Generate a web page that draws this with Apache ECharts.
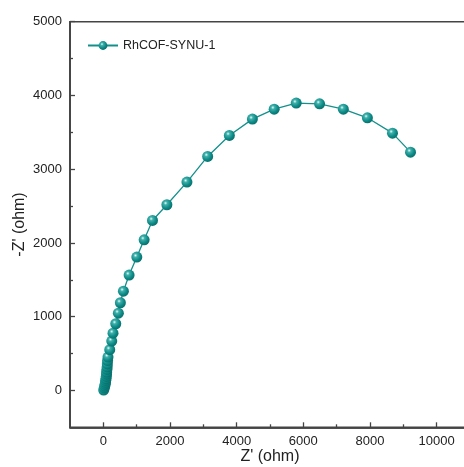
<!DOCTYPE html>
<html><head><meta charset="utf-8">
<script src="https://cdn.jsdelivr.net/npm/echarts@6/dist/echarts.min.js"></script>
<style>html,body{margin:0;padding:0;background:#fff}#c{width:464px;height:467px}</style>
</head><body><div id="c"></div>
<script>
const seriesName = 'RhCOF-SYNU-1';
const zReal = [10, 30, 45, 55, 65, 72, 80, 88, 95, 100, 108, 115, 120, 128, 140, 192, 252, 290, 373, 451, 511, 602, 773, 1004, 1224, 1475, 1906, 2508, 3129, 3781, 4472, 5125, 5786, 6487, 7200, 7922, 8674, 9215];
const zImag = [5, 35, 60, 85, 110, 135, 160, 190, 220, 250, 285, 320, 360, 405, 452, 552, 669, 777, 904, 1048, 1189, 1346, 1564, 1808, 2043, 2305, 2518, 2825, 3173, 3458, 3679, 3814, 3896, 3887, 3814, 3697, 3489, 3231];
const xMajorTicks = [0, 2000, 4000, 6000, 8000, 10000];
const xMinorTicks = [1000, 3000, 5000, 7000, 9000];
const yMajorTicks = [0, 1000, 2000, 3000, 4000, 5000];
const yMinorTicks = [500, 1500, 2500, 3500, 4500];

const teal = '#14908c';
const sphere = {type:'radial', x:0.38, y:0.35, r:0.75, colorStops:[
  {offset:0, color:'#e6fbfa'}, {offset:0.22, color:'#3fb0ab'}, {offset:0.6, color:'#0d8a86'}, {offset:1, color:'#056663'}]};
const axisCol = '#444';
const font = 'Liberation Sans, Arial, sans-serif';
const data = zReal.map((x,i)=>[x, zImag[i]]);
const plain = v => String(v);

const chart = echarts.init(document.getElementById('c'), null, {renderer:'canvas'});
const lineSt = {show:true, onZero:false, lineStyle:{color:axisCol, width:1.5}};
const baseX = {min:-1000, max:11000, axisLine:lineSt, splitLine:{show:false}};
const baseY = {min:-500, max:5000, axisLine:lineSt, splitLine:{show:false}};
chart.setOption({
  animation:false,
  grid:{left:70, right:-6, top:21.7, bottom:39.7, containLabel:false, outerBoundsMode:'none',
    show:true, borderColor:axisCol, borderWidth:1.5},
  legend:{data:[seriesName], left:82, top:34, itemWidth:30, itemHeight:11, itemGap:6,
    textStyle:{fontFamily:font, fontSize:12.5, color:'#222'}},
  xAxis:[
    Object.assign({}, baseX, {type:'value', position:'bottom',
      name:"Z' (ohm)", nameLocation:'middle', nameGap:21, nameMoveOverlap:false,
      nameTextStyle:{fontFamily:font, fontSize:16, color:'#222'},
      axisTick:{show:true, inside:true, length:5, lineStyle:{color:axisCol, width:1.3}, customValues:xMajorTicks},
      axisLabel:{fontFamily:font, fontSize:13, color:'#222', margin:8, formatter:plain, customValues:xMajorTicks}}),
    Object.assign({}, baseX, {type:'value', position:'bottom',
      axisTick:{show:true, inside:true, length:3, lineStyle:{color:axisCol, width:1.3}, customValues:xMinorTicks},
      axisLabel:{show:false, customValues:xMinorTicks}})
  ],
  yAxis:[
    Object.assign({}, baseY, {type:'value', position:'left',
      name:"-Z' (ohm)", nameLocation:'middle', nameGap:42, nameMoveOverlap:false,
      nameTextStyle:{fontFamily:font, fontSize:16, color:'#222'},
      axisTick:{show:true, inside:true, length:5, lineStyle:{color:axisCol, width:1.3}, customValues:yMajorTicks},
      axisLabel:{fontFamily:font, fontSize:13, color:'#222', margin:8, formatter:plain, customValues:yMajorTicks}}),
    Object.assign({}, baseY, {type:'value', position:'left',
      axisTick:{show:true, inside:true, length:3, lineStyle:{color:axisCol, width:1.3}, customValues:yMinorTicks},
      axisLabel:{show:false, customValues:yMinorTicks}})
  ],
  series:[{
    name:seriesName, type:'line', data:data, xAxisIndex:0, yAxisIndex:0,
    symbol:'circle', symbolSize:11, showAllSymbol:true,
    lineStyle:{color:teal, width:1.3},
    itemStyle:{color:sphere, borderWidth:0}
  }]
});
</script></body></html>
